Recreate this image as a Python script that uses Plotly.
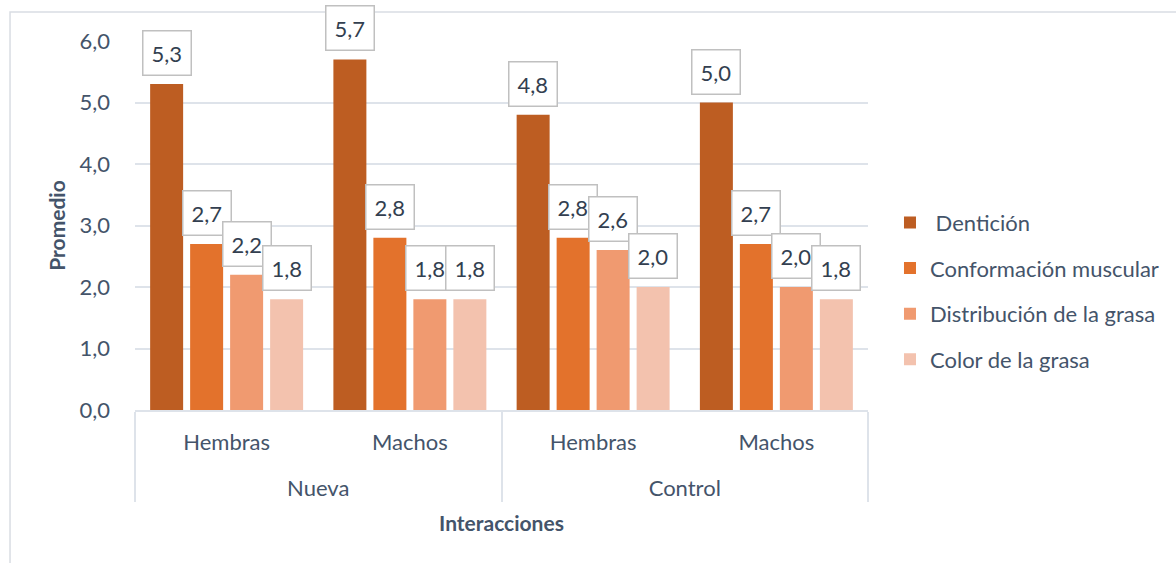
import plotly.graph_objects as go

# Categories: treatment (outer level) and sex (inner level)
tratamiento = ["Nueva", "Nueva", "Control", "Control"]
sexo = ["Hembras", "Machos", "Hembras", "Machos"]

series = ["Dentición", "Conformación muscular", "Distribución de la grasa", "Color de la grasa"]
denticion = [5.3, 5.7, 4.8, 5.0]
conformacion = [2.7, 2.8, 2.8, 2.7]
distribucion = [2.2, 1.8, 2.6, 2.0]
color_grasa = [1.8, 1.8, 2.0, 1.8]

valores = [denticion, conformacion, distribucion, color_grasa]
colores = ["#BD5D22", "#E3722C", "#F09A70", "#F3C2AE"]
legend_names = [" Dentición", "Conformación muscular", "Distribución de la grasa", "Color de la grasa"]

FONT = "Lato"
TXT = "#44546A"
GRID = "#DEE3EA"

BARGAP = 0.127
BARGROUPGAP = 0.175

# inner labels get a trailing blank line so the outer level sits lower
sexo_lbl = [s + "<br> " for s in sexo]

fig = go.Figure()
for i, (name, vals, col) in enumerate(zip(legend_names, valores, colores)):
    fig.add_trace(go.Bar(
        x=[tratamiento, sexo_lbl],
        y=vals,
        name=name,
        marker=dict(color=col, line=dict(width=0)),
        legendgroup=f"g{i}",
    ))

# Boxed data labels above each bar
n = len(valores)
slot = (1 - BARGAP) / n
for j, vals in enumerate(valores):
    for k, v in enumerate(vals):
        fig.add_annotation(
            x=k + (j - (n - 1) / 2) * slot,
            y=v,
            xref="x", yref="y",
            text=f"{v:.1f}".replace(".", ","),
            showarrow=False,
            yanchor="bottom",
            yshift=8,
            font=dict(family=FONT, size=22, color="#333F50"),
            bgcolor="white",
            bordercolor="#C0C0C0",
            borderwidth=1.5,
            borderpad=8,
        )

# Outer chart frame
fig.add_shape(type="rect", xref="paper", yref="paper",
              x0=-0.1705, x1=1.43, y0=-0.45, y1=1.0786,
              line=dict(color="#D9DDE3", width=1.5), fillcolor="rgba(0,0,0,0)", layer="below")

fig.update_layout(
    width=1176, height=563,
    margin=dict(l=135, r=308, t=41, b=153),
    paper_bgcolor="white", plot_bgcolor="white",
    separators=",.",
    barmode="group",
    bargap=BARGAP,
    bargroupgap=BARGROUPGAP,
    font=dict(family=FONT, color=TXT, size=22),
    showlegend=True,
    legend=dict(
        x=1.030, xanchor="left", y=0.322, yanchor="middle",
        font=dict(family=FONT, size=22, color=TXT),
        tracegroupgap=14,
        itemwidth=30,
        bgcolor="rgba(0,0,0,0)",
    ),
    xaxis=dict(
        type="multicategory",
        showline=True, linecolor=GRID, linewidth=2,
        showdividers=True, dividercolor=GRID, dividerwidth=2,
        tickfont=dict(family=FONT, size=22, color=TXT),
        ticks="",
        ticklabelstandoff=12,
        title=dict(text="<b>Interacciones</b>", font=dict(family=FONT, size=21, color=TXT), standoff=16),
    ),
    yaxis=dict(
        range=[0, 6],
        dtick=1,
        tickformat=".1f",
        showgrid=True, gridcolor=GRID, gridwidth=2,
        zeroline=False,
        showline=False,
        ticks="",
        tickfont=dict(family=FONT, size=22, color=TXT),
        ticklabelstandoff=24,
        title=dict(text="<b>Promedio</b>", font=dict(family=FONT, size=21, color=TXT), standoff=8),
    ),
)

fig.write_html("out.html")
